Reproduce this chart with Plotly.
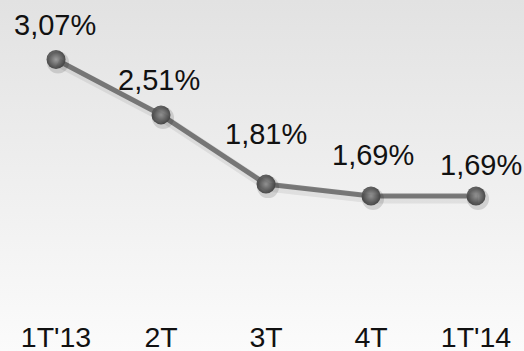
import base64
import plotly.graph_objects as go

# Quarterly rate series
quarters = ["1T'13", "2T", "3T", "4T", "1T'14"]
rates = [3.07, 2.51, 1.81, 1.69, 1.69]
rate_labels = ["3,07%", "2,51%", "1,81%", "1,69%", "1,69%"]

# label placement relative to each point (pixels)
label_dx = [-1, -2, 0, 2, 5]
label_dy = [35, 35, 50, 41, 31]

W, H = 524, 351
FONT = "Liberation Sans, Arial, sans-serif"
ML, MB = 3, 35
X_RANGE = [-0.505, 4.457]
Y_RANGE = [0.476, 3.672]

pw, ph = W - ML, H - MB
px_x = (X_RANGE[1] - X_RANGE[0]) / pw   # data units per pixel
px_y = (Y_RANGE[1] - Y_RANGE[0]) / ph

# Soft vertical grey gradient used as the page backdrop
svg = (
    f'<svg xmlns="http://www.w3.org/2000/svg" width="{W}" height="{H}">'
    '<defs><linearGradient id="g" x1="0" y1="0" x2="0" y2="1">'
    '<stop offset="0" stop-color="#e2e2e2"/>'
    '<stop offset="1" stop-color="#fbfbfb"/>'
    '</linearGradient></defs>'
    f'<rect width="{W}" height="{H}" fill="url(#g)"/></svg>'
)
bg_uri = "data:image/svg+xml;base64," + base64.b64encode(svg.encode()).decode()

fig = go.Figure()

# drop shadows live on an overlaid axis pair offset a few pixels right/down
SH_DX, SH_DY = 2, 3
fig.add_trace(go.Scatter(
    x=quarters, y=rates, mode="lines", xaxis="x2", yaxis="y2",
    line=dict(color="rgba(0,0,0,0.07)", width=9),
    hoverinfo="skip", showlegend=False,
))
fig.add_trace(go.Scatter(
    x=quarters, y=rates, mode="markers", xaxis="x2", yaxis="y2",
    marker=dict(size=22, color="rgba(0,0,0,0.13)", line=dict(width=0)),
    hoverinfo="skip", showlegend=False,
))

# connecting line
fig.add_trace(go.Scatter(
    x=quarters, y=rates, mode="lines",
    line=dict(color="#7f7f7f", width=5),
    hoverinfo="skip", showlegend=False,
))

# shaded ball markers (radial gradient: light centre, dark rim)
fig.add_trace(go.Scatter(
    x=quarters, y=rates, mode="markers",
    marker=dict(
        size=19, color="#545454",
        gradient=dict(type="radial", color="#b4b4b4"),
        line=dict(width=0),
    ),
    showlegend=False,
))

for q, v, lab, dx, dy in zip(quarters, rates, rate_labels, label_dx, label_dy):
    fig.add_annotation(
        x=q, y=v, text=lab, showarrow=False,
        yanchor="middle", xshift=dx, yshift=dy,
        font=dict(family=FONT, size=29, color="#111111"),
    )

fig.update_layout(
    width=W, height=H,
    margin=dict(l=ML, r=0, t=0, b=MB, autoexpand=False),
    paper_bgcolor="rgba(0,0,0,0)",
    plot_bgcolor="rgba(0,0,0,0)",
    images=[dict(
        source=bg_uri, xref="paper", yref="paper",
        x=-ML / pw, y=1, sizex=W / pw, sizey=H / ph,
        xanchor="left", yanchor="top", sizing="stretch", layer="below",
    )],
    xaxis=dict(
        type="category", range=X_RANGE,
        showgrid=False, zeroline=False, showline=False, ticks="",
        tickfont=dict(family=FONT, size=28.5, color="#111111"),
        ticklabelstandoff=1, automargin=False,
        fixedrange=True,
    ),
    yaxis=dict(range=Y_RANGE, visible=False, fixedrange=True, automargin=False),
    xaxis2=dict(
        type="category", overlaying="x", visible=False, fixedrange=True,
        range=[X_RANGE[0] - SH_DX * px_x, X_RANGE[1] - SH_DX * px_x],
    ),
    yaxis2=dict(
        overlaying="y", visible=False, fixedrange=True,
        range=[Y_RANGE[0] + SH_DY * px_y, Y_RANGE[1] + SH_DY * px_y],
    ),
)

fig.write_html("out.html")
